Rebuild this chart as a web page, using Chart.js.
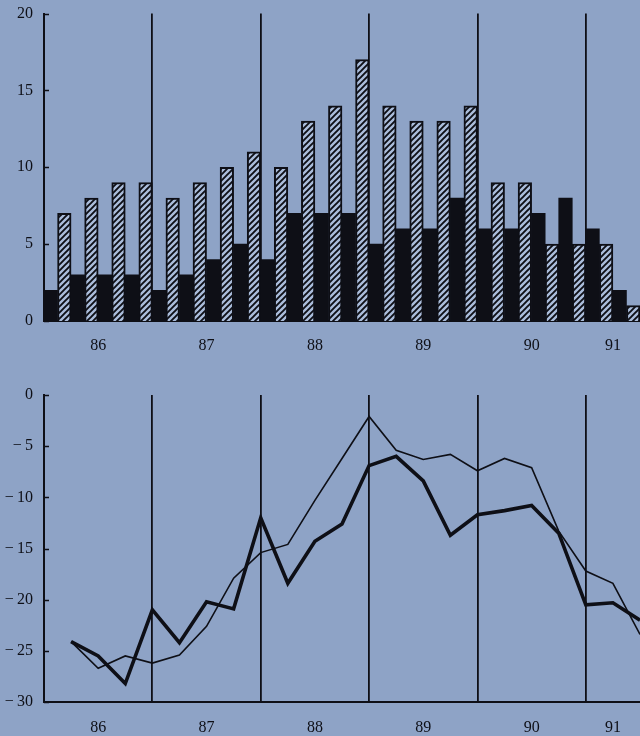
<!DOCTYPE html>
<html><head><meta charset="utf-8">
<script src="https://cdn.jsdelivr.net/npm/chart.js@4/dist/chart.umd.min.js"></script>
<style>
html,body{margin:0;padding:0;background:#8ea3c6;width:640px;height:736px;overflow:hidden}
canvas{position:absolute;left:0}
#top{top:0}
#bot{top:360px}
</style></head><body>
<canvas id="top" width="640" height="360"></canvas>
<canvas id="bot" width="640" height="376"></canvas>
<script>
// ---- data ----
const years = ['86','87','88','89','90','91'];
const yearLabelAt = [2, 6, 10, 14, 18, 21];      // quarter index where each year label sits
const yearLines = [4, 8, 12, 16, 20];             // year boundaries (quarter index)
const blackBars   = [2,3,3,3, 2,3,4,5, 4,7,7,7, 5,6,6,8, 6,6,7,8, 6,2];
const hatchedBars = [7,8,9,9, 8,9,10,11, 10,13,14,17, 14,13,13,14, 9,9,5,5, 5,1];
const thinLine  = [-24.1,-26.7,-25.5,-26.2,-25.4,-22.6,-17.9,-15.4,-14.6,-10.3,-6.2,-2.1,-5.4,-6.3,-5.8,-7.4,-6.2,-7.1,-13.3,-17.2,-18.4,-23.4];
const thickLine = [-24.1,-25.5,-28.2,-21.0,-24.2,-20.2,-20.9,-12.0,-18.4,-14.3,-12.6,-6.9,-6.0,-8.4,-13.7,-11.7,-11.3,-10.8,-13.5,-20.5,-20.3,-22.0];
const topTicks = [0, 5, 10, 15, 20];
const bottomTicks = [0, -5, -10, -15, -20, -25, -30];

// ---- style ----
const INK = '#0e0f16';
const FONT = {family: "'Liberation Serif', 'DejaVu Serif', serif", size: 16};

function hatchPattern() {
  const c = document.createElement('canvas');
  c.width = 6; c.height = 6;
  const g = c.getContext('2d');
  g.fillStyle = '#abbddb';
  g.fillRect(0, 0, 6, 6);
  g.strokeStyle = INK;
  g.lineWidth = 1.9;
  g.beginPath();
  g.moveTo(-1, 7); g.lineTo(7, -1);
  g.moveTo(-1, 1); g.lineTo(1, -1);
  g.moveTo(5, 7); g.lineTo(7, 5);
  g.stroke();
  return g.createPattern(c, 'repeat');
}

const innerTicks = {
  id: 'innerTicks',
  afterDraw(chart) {
    const ys = chart.scales.y, x0 = chart.chartArea.left, ctx = chart.ctx;
    ctx.save();
    ctx.strokeStyle = INK; ctx.lineWidth = 1.5;
    ys.ticks.forEach(t => {
      const py = Math.round(ys.getPixelForValue(t.value)) + 0.5;
      ctx.beginPath(); ctx.moveTo(x0, py); ctx.lineTo(x0 + 5, py); ctx.stroke();
    });
    ctx.restore();
  }
};

function xScale(height, pad) {
  return {
    type: 'linear', min: 0, max: 22, offset: false,
    afterBuildTicks: s => {
      s.ticks = [...yearLines, ...yearLabelAt].sort((a, b) => a - b).map(v => ({value: v}));
    },
    grid: {
      offset: false, drawTicks: false, lineWidth: 1.8,
      color: c => (c.tick && yearLines.includes(c.tick.value)) ? INK : 'rgba(0,0,0,0)'
    },
    border: {display: true, color: INK, width: 2},
    ticks: {
      autoSkip: false, maxRotation: 0, padding: pad, color: INK, font: FONT,
      callback: v => { const i = yearLabelAt.indexOf(v); return i >= 0 ? years[i] : ''; }
    },
    afterFit: s => { s.height = height; }
  };
}

function yScale(min, max, ticks, fmt) {
  return {
    min, max,
    afterBuildTicks: s => { s.ticks = ticks.map(v => ({value: v})); },
    grid: {display: false, drawTicks: false},
    border: {display: true, color: INK, width: 2},
    ticks: {padding: 11, color: INK, font: FONT, callback: fmt},
    afterFit: s => { s.width = 44; s.paddingTop = 0; s.paddingBottom = 0; }
  };
}

const common = {
  responsive: false, animation: false, devicePixelRatio: 1,
  plugins: {legend: {display: false}, tooltip: {enabled: false}}
};

new Chart(document.getElementById('top'), {
  type: 'bar',
  data: {
    datasets: [
      {data: blackBars.map((v, i) => ({x: i + 0.5, y: v})), backgroundColor: INK, borderWidth: 0},
      {data: hatchedBars.map((v, i) => ({x: i + 0.5, y: v})), backgroundColor: hatchPattern(),
       borderColor: INK, borderWidth: 2}
    ]
  },
  options: {
    ...common,
    layout: {padding: {top: 13.5, right: 0, left: 0, bottom: 0}},
    datasets: {bar: {categoryPercentage: 1, barPercentage: 1}},
    scales: {x: xScale(39, 15), y: yScale(0, 20, topTicks, v => String(v))}
  },
  plugins: [innerTicks]
});

new Chart(document.getElementById('bot'), {
  type: 'line',
  data: {
    datasets: [
      {data: thinLine.map((v, i) => ({x: i + 1, y: v})), borderColor: INK, borderWidth: 1.6,
       pointRadius: 0, tension: 0, fill: false},
      {data: thickLine.map((v, i) => ({x: i + 1, y: v})), borderColor: INK, borderWidth: 3.6,
       pointRadius: 0, tension: 0, fill: false, borderJoinStyle: 'miter'}
    ]
  },
  options: {
    ...common,
    layout: {padding: {top: 35, right: 0, left: 0, bottom: 0}},
    scales: {x: xScale(34, 16), y: yScale(-30, 0, bottomTicks, v => v === 0 ? '0' : '\u2212\u2009' + Math.abs(v))}
  },
  plugins: [innerTicks]
});
</script>
</body></html>
